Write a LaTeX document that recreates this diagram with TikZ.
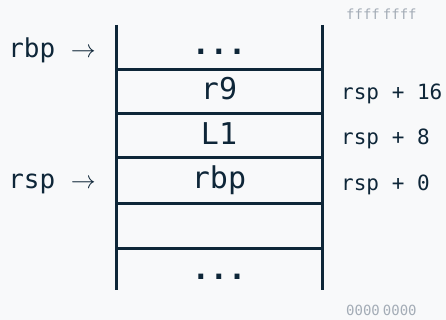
\documentclass[tikz,border=0pt]{standalone}
\usepackage{fontspec}
\setmonofont{DejaVu Sans Mono}
\definecolor{stackblue}{HTML}{0E2638}
\definecolor{addrgray}{HTML}{A3ACB6}
\definecolor{pagebg}{HTML}{F8F9FA}

\begin{document}
\begin{tikzpicture}[x=1pt,y=-1pt,
    wall/.style={line width=3pt,color=stackblue},
    cell/.style={text=stackblue,font=\ttfamily\fontsize{30}{30}\selectfont,anchor=base},
    reg/.style={text=stackblue,font=\ttfamily\fontsize{26}{26}\selectfont,anchor=base east,inner sep=0pt},
    offset/.style={text=stackblue,font=\ttfamily\fontsize{21}{21}\selectfont,anchor=base west,inner sep=0pt},
    addr/.style={text=addrgray,font=\ttfamily\fontsize{14}{14}\selectfont,anchor=base west,inner sep=0pt}]
  \fill[pagebg] (0,0) rectangle (446,320);
  \useasboundingbox (0,0) rectangle (446,320);

  % walls of the stack
  \draw[wall] (116,25) -- (116,290);
  \draw[wall] (322,25) -- (322,290);
  % slots
  \draw[wall] (116,70) -- (322,70);
  \draw[wall] (116,114) -- (322,114);
  \draw[wall] (116,158) -- (322,158);
  \draw[wall] (116,203) -- (322,203);
  \draw[wall] (116,248) -- (322,248);

  \node[cell,font=\ttfamily\bfseries\fontsize{30}{30}\selectfont] (top) at (219,55) {...};
  \node[cell] (r9) at (219,100) {r9};
  \node[cell] (l1) at (219,145) {L1};
  \node[cell] (saved) at (219,189) {rbp};
  \node[cell,font=\ttfamily\bfseries\fontsize{30}{30}\selectfont] (bottom) at (219,279) {...};

  \node[reg] (rbp) at (96,58) {rbp $\rightarrow$};
  \node[reg] (rsp) at (96,189) {rsp $\rightarrow$};

  \node[offset] (off16) at (341,100) {rsp + 16};
  \node[offset] (off8) at (341,145) {rsp + 8};
  \node[offset] (off0) at (341,190) {rsp + 0};

  \node[addr] (high) at (346,20) {ffff\hspace{3pt}ffff};
  \node[addr] (low) at (346,315) {0000\hspace{3pt}0000};
\end{tikzpicture}
\end{document}
